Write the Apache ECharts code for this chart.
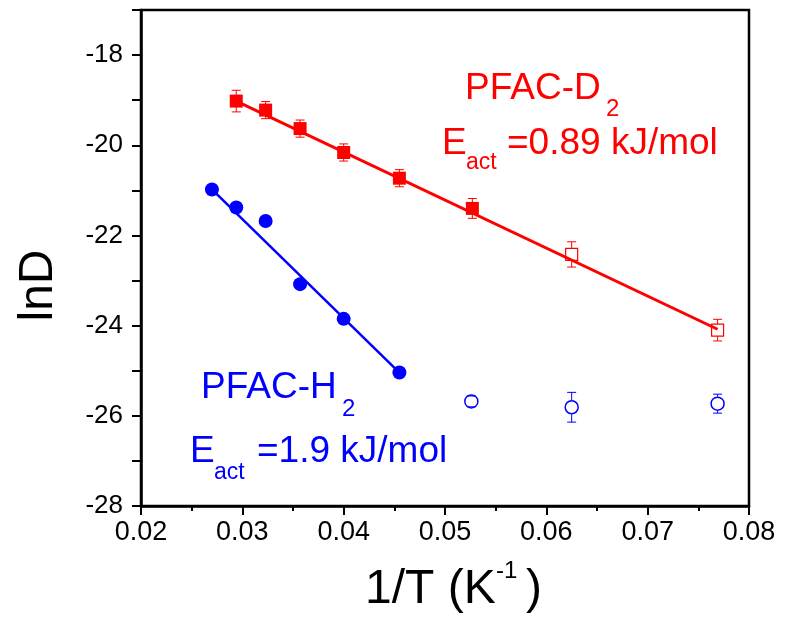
<!DOCTYPE html>
<html>
<head>
<meta charset="utf-8">
<script src="https://cdn.jsdelivr.net/npm/echarts@6/dist/echarts.min.js"></script>
<style>html,body{margin:0;padding:0;background:#fff;}#c{width:788px;height:617px;}</style>
</head>
<body>
<div id="c"></div>
<script>
// ---- data ----
const redFilledX = [0.0294, 0.0323, 0.0357, 0.0400, 0.0455, 0.0527];
const redFilledY = [-19.02, -19.22, -19.63, -20.16, -20.73, -21.40];
const redFilledErr = [0.24, 0.19, 0.19, 0.19, 0.19, 0.22];
const redOpenX = [0.0625, 0.0769];
const redOpenY = [-22.42, -24.10];
const redOpenErr = [0.28, 0.24];
const blueFilledX = [0.0270, 0.0294, 0.0323, 0.0357, 0.0400, 0.0455];
const blueFilledY = [-20.98, -21.38, -21.68, -23.08, -23.85, -25.04];
const blueOpenX = [0.0526, 0.0625, 0.0769];
const blueOpenY = [-25.68, -25.81, -25.73];
const blueOpenErr = [0.12, 0.33, 0.21];
const redFitX = [0.0294, 0.0769];
const redFitY = [-19.02, -24.08];
const blueFitX = [0.0270, 0.0455];
const blueFitY = [-20.98, -25.04];
const xTicks = [0.02, 0.03, 0.04, 0.05, 0.06, 0.07, 0.08];
const yTicks = [-28, -26, -24, -22, -20, -18];

const RED = '#ff0000', BLUE = '#0000ff';
const zip = (a, b, c) => a.map((v, i) => c ? [v, b[i], c[i]] : [v, b[i]]);

function errBars(color, gap) {
  return function (params, api) {
    const x = api.value(0), y = api.value(1), e = api.value(2);
    const top = api.coord([x, y + e]);
    const bot = api.coord([x, y - e]);
    const c = api.coord([x, y]);
    const hw = 4.5;
    const st = { stroke: color, lineWidth: 1 };
    const ch = [];
    if (c[1] - top[1] > gap) ch.push({ type: 'line', shape: { x1: c[0], y1: top[1], x2: c[0], y2: c[1] - gap }, style: st });
    if (bot[1] - c[1] > gap) ch.push({ type: 'line', shape: { x1: c[0], y1: c[1] + gap, x2: c[0], y2: bot[1] }, style: st });
    ch.push({ type: 'line', shape: { x1: c[0] - hw, y1: top[1], x2: c[0] + hw, y2: top[1] }, style: st });
    ch.push({ type: 'line', shape: { x1: c[0] - hw, y1: bot[1], x2: c[0] + hw, y2: bot[1] }, style: st });
    return { type: 'group', children: ch };
  };
}

const chart = echarts.init(document.getElementById('c'), null, { renderer: 'canvas' });
const F = '"Liberation Sans", Arial, sans-serif';

function txt(text, x, y, size, color, extra) {
  return Object.assign({
    type: 'text', x: x, y: y, silent: true,
    style: { text: text, fill: color, font: size + 'px ' + F, textAlign: 'left', textVerticalAlign: 'middle' }
  }, extra || {});
}

chart.setOption({
  animation: false,
  backgroundColor: '#fff',
  grid: { left: 141, right: 39, top: 10, bottom: 111, show: true, borderColor: '#000', borderWidth: 2.5, backgroundColor: 'transparent' },
  xAxis: {
    type: 'value', min: 0.02, max: 0.08, interval: 0.01,
    axisLine: { show: true, onZero: false, lineStyle: { color: '#000', width: 2.5 } },
    axisTick: { show: true, inside: false, length: 9, lineStyle: { color: '#000', width: 2 } },
    minorTick: { show: true, splitNumber: 2, length: 5, lineStyle: { color: '#000', width: 2 } },
    splitLine: { show: false },
    axisLabel: { color: '#000', fontFamily: F, fontSize: 27, margin: 13,
      formatter: v => { const m = xTicks.find(t => Math.abs(t - v) < 1e-9); return m === undefined ? '' : m.toFixed(2); } }
  },
  yAxis: {
    type: 'value', min: -28, max: -17, interval: 2,
    axisLine: { show: true, onZero: false, lineStyle: { color: '#000', width: 2.5 } },
    axisTick: { show: true, inside: false, length: 9, lineStyle: { color: '#000', width: 2 } },
    minorTick: { show: true, splitNumber: 2, length: 9, lineStyle: { color: '#000', width: 2 } },
    splitLine: { show: false },
    axisLabel: { color: '#000', fontFamily: F, fontSize: 26, margin: 18, showMaxLabel: false,
      formatter: v => { const m = yTicks.find(t => Math.abs(t - v) < 1e-9); return m === undefined ? '' : String(m); } }
  },
  series: [
    { type: 'line', data: zip(redFitX, redFitY), showSymbol: false, symbol: 'none', lineStyle: { color: RED, width: 3 }, z: 2, silent: true },
    { type: 'line', data: zip(blueFitX, blueFitY), showSymbol: false, symbol: 'none', lineStyle: { color: BLUE, width: 2.5 }, z: 2, silent: true },
    { type: 'custom', data: zip(redFilledX, redFilledY, redFilledErr), renderItem: errBars(RED, 0), z: 3, silent: true },
    { type: 'custom', data: zip(redOpenX, redOpenY, redOpenErr), renderItem: errBars(RED, 6), z: 3, silent: true },
    { type: 'custom', data: zip(blueOpenX, blueOpenY, blueOpenErr), renderItem: errBars(BLUE, 7), z: 3, silent: true },
    { type: 'scatter', data: zip(redFilledX, redFilledY), symbol: 'rect', symbolSize: 13, itemStyle: { color: RED, opacity: 1 }, z: 4, silent: true },
    { type: 'scatter', data: zip(redOpenX, redOpenY), symbol: 'rect', symbolSize: 12, itemStyle: { color: 'rgba(0,0,0,0)', borderColor: RED, borderWidth: 1.2, opacity: 1 }, z: 4, silent: true },
    { type: 'scatter', data: zip(blueFilledX, blueFilledY), symbol: 'circle', symbolSize: 14, itemStyle: { color: BLUE, opacity: 1 }, z: 4, silent: true },
    { type: 'scatter', data: zip(blueOpenX, blueOpenY), symbol: 'circle', symbolSize: 13, itemStyle: { color: 'rgba(0,0,0,0)', borderColor: BLUE, borderWidth: 1.5, opacity: 1 }, z: 4, silent: true }
  ],
  graphic: [
    txt('PFAC-D', 465, 89, 37, RED),
    txt('2', 606, 109, 24, RED),
    txt('E', 442, 143.5, 37, RED),
    txt('act', 466, 163, 23, RED),
    txt('=0.89 kJ/mol', 507, 143.5, 37, RED),
    txt('PFAC-H', 201, 387.5, 37, BLUE),
    txt('2', 342, 409, 24, BLUE),
    txt('E', 190, 452, 37, BLUE),
    txt('act', 214, 472.5, 23, BLUE),
    txt('=1.9 kJ/mol', 257, 452, 37, BLUE),
    txt('1/T (K', 365, 590, 48, '#000'),
    txt('-1', 496, 571, 24, '#000'),
    txt(')', 526, 590, 48, '#000'),
    { type: 'text', x: 39, y: 285.5, rotation: Math.PI / 2, silent: true,
      style: { text: 'lnD', fill: '#000', font: '48px ' + F, textAlign: 'center', textVerticalAlign: 'middle' } }
  ]
});
</script>
</body>
</html>
